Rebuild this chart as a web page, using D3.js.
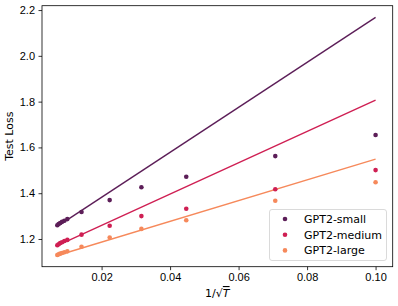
<!DOCTYPE html>
<html>
<head>
<meta charset="utf-8">
<script src="https://cdn.jsdelivr.net/npm/d3@7"></script>
<style>
  body { margin: 0; background: #fff; }
  svg { font-family: "DejaVu Sans", sans-serif; }
  .tick text { font-size: 11px; fill: #000; }
</style>
</head>
<body>
<script>
// x = 1/sqrt(T)
const xVals = [0.00707, 0.00745, 0.00791, 0.00845, 0.00913, 0.01, 0.01414, 0.02236, 0.03162, 0.04472, 0.07071, 0.1];
const smallLoss = [1.260, 1.265, 1.270, 1.275, 1.280, 1.287, 1.318, 1.370, 1.426, 1.472, 1.562, 1.654];
const mediumLoss = [1.173, 1.177, 1.182, 1.186, 1.191, 1.196, 1.219, 1.258, 1.300, 1.332, 1.417, 1.501];
const largeLoss = [1.130, 1.133, 1.136, 1.139, 1.142, 1.146, 1.166, 1.206, 1.244, 1.282, 1.367, 1.448];

// fitted lines (endpoints)
const fitX = [0.00707, 0.1];
const smallFit = [1.255, 2.168];
const mediumFit = [1.171, 1.807];
const largeFit = [1.128, 1.549];

const names = ["GPT2-small", "GPT2-medium", "GPT2-large"];
const colors = ["#5c1e58", "#cf1f53", "#f6895b"];
const xTicks = [0.02, 0.04, 0.06, 0.08, 0.10];
const yTicks = [1.2, 1.4, 1.6, 1.8, 2.0, 2.2];

const width = 398, height = 306;
const margin = { left: 42, right: 5.3, top: 5.7, bottom: 39.3 };

const svg = d3.select("body").append("svg")
    .attr("width", width)
    .attr("height", height);

const x = d3.scaleLinear()
    .domain([0.0026, 0.105])
    .range([margin.left, width - margin.right]);

const y = d3.scaleLinear()
    .domain([1.079, 2.219])
    .range([height - margin.bottom, margin.top]);

const series = [smallLoss, mediumLoss, largeLoss];
const fits = [smallFit, mediumFit, largeFit];

// fit lines
const line = d3.line()
    .x(d => x(d[0]))
    .y(d => y(d[1]));

fits.forEach(function (f, i) {
    svg.append("path")
        .datum(fitX.map((v, j) => [v, f[j]]))
        .attr("d", line)
        .attr("fill", "none")
        .attr("stroke", colors[i])
        .attr("stroke-width", 1.4);
});

// points
series.forEach(function (s, i) {
    svg.append("g")
        .selectAll("circle")
        .data(s)
        .enter()
        .append("circle")
        .attr("cx", (d, j) => x(xVals[j]))
        .attr("cy", d => y(d))
        .attr("r", 2.3)
        .attr("fill", colors[i]);
});

// axes
const xAxis = svg.append("g")
    .attr("transform", "translate(0," + (height - margin.bottom) + ")")
    .call(d3.axisBottom(x).tickValues(xTicks).tickFormat(d3.format(".2f")).tickSize(3.5).tickPadding(3.5));

const yAxis = svg.append("g")
    .attr("transform", "translate(" + margin.left + ",0)")
    .call(d3.axisLeft(y).tickValues(yTicks).tickFormat(d3.format(".1f")).tickSize(3.5).tickPadding(3.5));

[xAxis, yAxis].forEach(function (a) {
    a.select(".domain").remove();
    a.selectAll(".tick line").attr("stroke", "#000").attr("stroke-width", 0.8);
});

// frame
svg.append("rect")
    .attr("x", margin.left)
    .attr("y", margin.top)
    .attr("width", width - margin.left - margin.right)
    .attr("height", height - margin.top - margin.bottom)
    .attr("fill", "none")
    .attr("stroke", "#000")
    .attr("stroke-width", 0.8);

// axis labels
svg.append("text")
    .attr("x", (margin.left + width - margin.right) / 2)
    .attr("y", 297)
    .attr("text-anchor", "middle")
    .attr("font-size", 11)
    .html('1/<tspan>\u221A</tspan><tspan font-style="italic" text-decoration="overline">T</tspan>');

svg.append("text")
    .attr("transform", "translate(13," + ((margin.top + height - margin.bottom) / 2) + ") rotate(-90)")
    .attr("text-anchor", "middle")
    .attr("font-size", 11)
    .text("Test Loss");

// legend
const legend = svg.append("g");
legend.append("rect")
    .attr("x", 269.5)
    .attr("y", 209.5)
    .attr("width", 117)
    .attr("height", 51)
    .attr("rx", 2.5)
    .attr("fill", "#fff")
    .attr("fill-opacity", 0.8)
    .attr("stroke", "#d0d0d0")
    .attr("stroke-width", 0.8);

names.forEach(function (n, i) {
    const ly = 219 + i * 15.7;
    legend.append("circle")
        .attr("cx", 285)
        .attr("cy", ly)
        .attr("r", 2.3)
        .attr("fill", colors[i]);
    legend.append("text")
        .attr("x", 304)
        .attr("y", ly + 4)
        .attr("font-size", 11)
        .text(n);
});
</script>
</body>
</html>
